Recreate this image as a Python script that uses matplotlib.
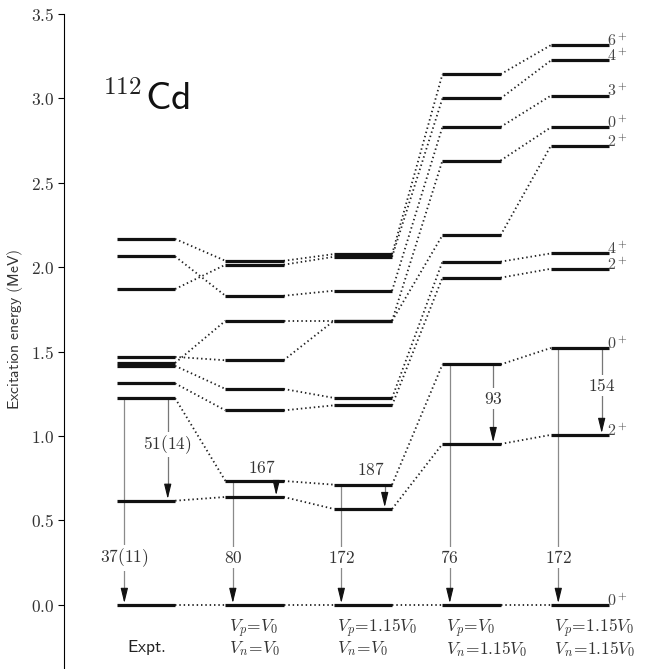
import numpy as np
import matplotlib
matplotlib.use("Agg")
import matplotlib.pyplot as plt

plt.rcParams["mathtext.fontset"] = "cm"

# level energies (MeV), same state index in every column -> joined by dotted lines
expt = [0.0, 0.617, 1.224, 1.312, 1.416, 1.469, 1.433, 2.064, 1.871, 2.168]
vp_v0 = [0.0, 0.639, 0.734, 1.152, 1.279, 1.449, 1.683, 1.831, 2.015, 2.038]
vp_115 = [0.0, 0.568, 0.712, 1.182, 1.226, 1.683, 1.683, 1.861, 2.062, 2.078]
vn_115 = [0.0, 0.953, 1.424, 1.938, 2.033, 2.189, 2.632, 2.831, 3.000, 3.143]
both_115 = [0.0, 1.007, 1.522, 1.991, 2.082, 2.720, 2.829, 3.017, 3.225, 3.316]
spins = ["0^+", "2^+", "0^+", "2^+", "4^+", "2^+", "0^+", "3^+", "4^+", "6^+"]

columns = [expt, vp_v0, vp_115, vn_115, both_115]
col_labels = [
    (r"$\mathsf{Expt.}$", None),
    (r"$V_p\!=\!V_0$", r"$V_n\!=\!V_0$"),
    (r"$V_p\!=\!\mathsf{1.15}V_0$", r"$V_n\!=\!V_0$"),
    (r"$V_p\!=\!V_0$", r"$V_n\!=\!\mathsf{1.15}V_0$"),
    (r"$V_p\!=\!\mathsf{1.15}V_0$", r"$V_n\!=\!\mathsf{1.15}V_0$"),
]

# E0 strengths: 0+_2 -> 0+_1 (long arrow) and 0+_2 -> 2+_1 (short arrow)
e0_ground = ["37(11)", "80", "172", "76", "172"]
e0_ground_y = [0.279, 0.279, 0.279, 0.279, 0.279]
e0_2plus = ["51(14)", "167", "187", "93", "154"]
e0_2plus_y = [0.949, 0.812, 0.800, 1.222, 1.299]

hw = 0.268  # half width of a level bar

fig = plt.figure(figsize=(6.48, 6.69), dpi=100)
ax = fig.add_axes([0.0988, 0.0, 0.9012, 0.979])

for c, lev in enumerate(columns):
    for e in lev:
        ax.plot([c - hw, c + hw], [e, e], color="#111111", lw=2.3,
                solid_capstyle="butt", zorder=3)
    if c < len(columns) - 1:
        nxt = columns[c + 1]
        for e1, e2 in zip(lev, nxt):
            ax.plot([c + hw, c + 1 - hw], [e1, e2], color="#222222", lw=1.3,
                    linestyle=(0, (0.8, 1.6)), zorder=2)

# arrows
head = "-|>,head_length=0.9,head_width=0.22"
for c, lev in enumerate(columns):
    # long one to ground state
    x = c - 0.2
    ax.plot([x, x], [lev[2], lev[0] + 0.06], color="#8a8a8a", lw=0.9, zorder=1)
    ax.annotate("", xy=(x, lev[0] + 0.01), xytext=(x, lev[0] + 0.09),
                arrowprops=dict(arrowstyle=head, color="#111111", lw=0.8,
                                mutation_scale=10, shrinkA=0, shrinkB=0), zorder=4)
    ax.text(x, e0_ground_y[c], "$" + e0_ground[c] + "$", ha="center", va="center",
            fontsize=12.5, color="#333333", zorder=5,
            bbox=dict(facecolor="white", edgecolor="none", pad=1.0))

    # short one to 2+_1
    x = c + 0.2
    ax.plot([x, x], [lev[2], lev[1] + 0.06], color="#777777", lw=0.9, zorder=1)
    ax.annotate("", xy=(x, lev[1] + 0.01), xytext=(x, lev[1] + 0.09),
                arrowprops=dict(arrowstyle=head, color="#111111", lw=0.8,
                                mutation_scale=10, shrinkA=0, shrinkB=0), zorder=4)
    lx = x if c in (0, 3, 4) else c + 0.07
    ax.text(lx, e0_2plus_y[c], "$" + e0_2plus[c] + "$", ha="center", va="center",
            fontsize=12.5, color="#333333", zorder=5,
            bbox=dict(facecolor="white", edgecolor="none", pad=1.0))

# spin labels on last column
for e, s in zip(both_115, spins):
    ax.text(4 + hw - 0.015, e - 0.005, "$" + s + "$", ha="left", va="baseline",
            fontsize=11.5, color="#444444")

# column labels
for c, (l1, l2) in enumerate(col_labels):
    if l2 is None:
        ax.text(c, -0.252, l1, ha="center", va="center", fontsize=12.5, color="#222222")
    else:
        ax.text(c - hw + 0.03, -0.142, l1, ha="left", va="center", fontsize=12.5, color="#333333")
        ax.text(c - hw + 0.03, -0.261, l2, ha="left", va="center", fontsize=12.5, color="#333333")

# nucleus label
ax.text(-0.395, 3.025, "$112$", ha="left", va="baseline", fontsize=18, color="#222222")
ax.text(-0.01, 2.935, r"$\mathsf{Cd}$", ha="left", va="baseline", fontsize=28.5, color="#111111")

ax.set_xlim(-0.756, 4.627)
ax.set_ylim(-0.38, 3.5)
for side in ["top", "right", "bottom"]:
    ax.spines[side].set_visible(False)
ax.spines["left"].set_bounds(-0.38, 3.5)
ax.set_xticks([])
yt = np.arange(0, 3.51, 0.5)
ax.set_yticks(yt)
ax.set_yticklabels(["$%.1f$" % v for v in yt], fontsize=12.5, color="#333333")
ax.tick_params(axis="y", direction="out", length=4, width=0.8, pad=3)
ax.set_ylabel(r"$\mathsf{Excitation\ energy\ (MeV)}$", fontsize=11.3, color="#333333")
ax.yaxis.set_label_coords(-0.066, 0.518)

fig.savefig("out.png", dpi=100)
